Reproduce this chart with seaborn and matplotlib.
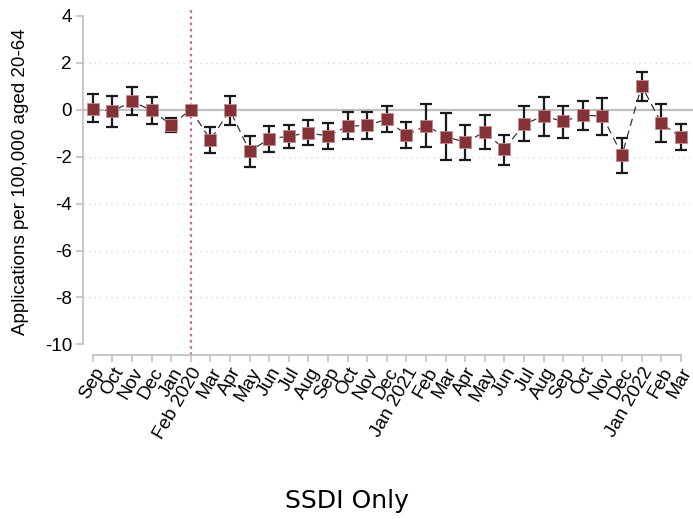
import numpy as np
import pandas as pd
import matplotlib
matplotlib.use("Agg")
import matplotlib.pyplot as plt
import seaborn as sns

months = ["Sep", "Oct", "Nov", "Dec", "Jan", "Feb 2020", "Mar", "Apr", "May", "Jun",
          "Jul", "Aug", "Sep", "Oct", "Nov", "Dec", "Jan 2021", "Feb", "Mar", "Apr",
          "May", "Jun", "Jul", "Aug", "Sep", "Oct", "Nov", "Dec", "Jan 2022", "Feb", "Mar"]

estimate = [0.04, -0.07, 0.35, -0.03, -0.65, 0.00, -1.28, -0.03, -1.77, -1.25,
            -1.13, -0.98, -1.13, -0.70, -0.67, -0.41, -1.09, -0.68, -1.15, -1.39,
            -0.95, -1.69, -0.61, -0.28, -0.50, -0.23, -0.28, -1.94, 1.02, -0.57, -1.18]

ci_upper = [0.67, 0.58, 0.95, 0.55, -0.35, np.nan, -0.74, 0.57, -1.11, -0.69,
            -0.65, -0.45, -0.55, -0.11, -0.09, 0.14, -0.54, 0.24, -0.14, -0.64,
            -0.23, -1.08, 0.14, 0.55, 0.17, 0.38, 0.48, -1.22, 1.62, 0.24, -0.61]

ci_lower = [-0.54, -0.74, -0.21, -0.61, -0.94, np.nan, -1.84, -0.64, -2.45, -1.79,
            -1.62, -1.50, -1.67, -1.26, -1.26, -0.96, -1.65, -1.60, -2.16, -2.14,
            -1.66, -2.34, -1.35, -1.12, -1.21, -0.86, -1.06, -2.70, 0.38, -1.37, -1.73]

y_ticks = [4, 2, 0, -2, -4, -6, -8, -10]

df = pd.DataFrame({
    "pos": np.arange(len(months)),
    "est": estimate,
    "lo": ci_lower,
    "hi": ci_upper,
})

sns.set_style("white")
plt.rcParams["font.family"] = ["Liberation Sans", "DejaVu Sans"]
plt.rcParams["text.color"] = "black"
plt.rcParams["axes.labelcolor"] = "black"
plt.rcParams["xtick.color"] = "black"
plt.rcParams["ytick.color"] = "black"

fig = plt.figure(figsize=(6.93, 5.19), dpi=100)
ax = fig.add_axes([0.1198, 0.316, 0.8802, 0.6686])

gray = "#bdbdbd"

# dotted grid lines and zero reference line
for yv in [2, -2, -4, -6, -8]:
    ax.axhline(yv, color="#d9d9d9", lw=1.0, ls=(0, (1, 3)), zorder=0)
ax.axhline(0, color="#c0c0c0", lw=1.6, zorder=1)
ax.axvline(5, color="#c86aa2", lw=1.6, ls=(0, (1.2, 1.6)), zorder=1)

# confidence intervals
ok = df.dropna()
ax.errorbar(ok["pos"], ok["est"],
            yerr=[ok["est"] - ok["lo"], ok["hi"] - ok["est"]],
            fmt="none", ecolor="#1a1a1a", elinewidth=1.6, capsize=4, capthick=1.6,
            zorder=2)

# point estimates joined by a dashed line
sns.lineplot(data=df, x="pos", y="est", ax=ax, color="#333333", lw=0.9,
             linestyle=(0, (6, 4)), zorder=3)
sns.scatterplot(data=df, x="pos", y="est", ax=ax, marker="s", s=85,
                color="#833338", edgecolor="#c98a8d", linewidth=0.6, zorder=4)

ax.set_xlim(-0.5, 30.62)
ax.set_ylim(-10.45, 4.33)

ax.set_yticks(y_ticks)
ax.set_yticklabels([str(v) for v in y_ticks], fontsize=13.5)
ax.set_xticks(df["pos"])
ax.set_xticklabels(months, rotation=60, ha="right", rotation_mode="anchor", fontsize=13.5)

for side in ["top", "right"]:
    ax.spines[side].set_visible(False)
ax.spines["left"].set_bounds(-10, 4)
ax.spines["bottom"].set_bounds(0, 30)
for side in ["left", "bottom"]:
    ax.spines[side].set_color(gray)
    ax.spines[side].set_linewidth(1.2)

ax.tick_params(axis="both", which="major", direction="out", length=5, width=1.1,
               color=gray, labelcolor="black", pad=3, left=True, bottom=True)
ax.tick_params(axis="x", pad=2)

ax.set_xlabel("")
ax.set_ylabel("Applications per 100,000 aged 20-64", fontsize=13.5, labelpad=11)

fig.text(0.5, 0.012, "SSDI Only", ha="center", va="bottom", fontsize=18,
         family="DejaVu Sans", color="black")

fig.savefig("out.png", dpi=100)
